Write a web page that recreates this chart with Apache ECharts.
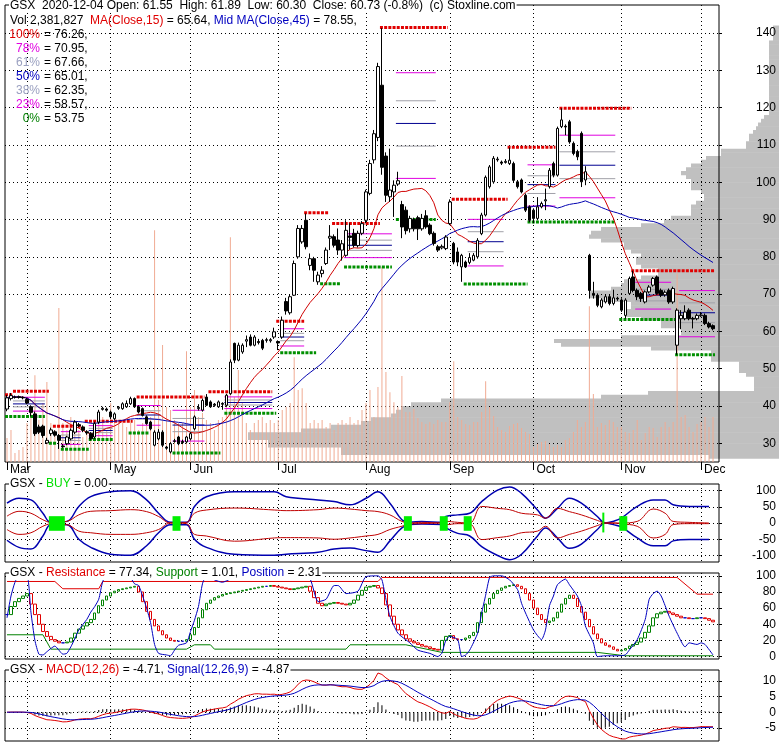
<!DOCTYPE html>
<html><head><meta charset="utf-8">
<script src="https://cdn.jsdelivr.net/npm/echarts@6/dist/echarts.min.js"></script>
<style>html,body{margin:0;padding:0;background:#fff}#c{width:780px;height:745px}</style>
</head><body><div id="c"></div>
<script>
// ---------- categories ----------
const monthNames = ['Mar','Apr','May','Jun','Jul','Aug','Sep','Oct','Nov','Dec'];
const monthTradingDays = [5,21,20,22,22,21,21,22,20,4];
const hiddenMonthLabels = ['Apr'];

// ---------- price data ----------
const opens = [39.2,42.0,42.3,42.5,42.3,41.8,39.8,37.9,34.4,34.6,
30.1,32.6,33.1,32.1,29.3,29.9,31.2,33.0,35.0,34.4,
33.1,32.6,31.7,35.7,39.1,39.2,38.4,36.6,39.4,39.3,
39.8,40.6,42.0,39.8,39.3,37.1,35.7,29.5,31.2,33.0,
29.0,27.7,30.5,31.7,30.5,30.4,31.2,33.9,39.3,38.9,
42.4,41.1,40.5,39.8,40.7,40.2,43.3,56.8,52.3,54.5,
57.4,58.5,56.3,57.3,57.6,57.6,57.5,58.5,57.3,58.5,
68.0,65.0,69.7,80.0,84.0,89.8,77.7,79.5,73.3,75.5,
78.2,85.0,85.4,84.5,81.8,80.4,85.6,86.3,83.0,86.3,
89.8,97.0,106.0,112.0,126.0,107.0,96.1,97.4,99.5,94.0,
92.5,87.5,90.0,90.5,87.5,91.0,88.5,86.3,82.7,82.4,
82.2,88.9,83.6,81.3,77.3,78.6,78.5,79.1,80.0,86.2,
91.2,98.8,100.1,106.0,105.4,105.3,105.0,105.0,100.1,100.6,
96.5,93.4,92.5,90.3,93.4,95.0,98.8,105.0,101.9,114.9,
115.0,116.2,110.4,108.2,113.1,100.6,80.4,70.2,69.7,66.6,
67.9,69.3,67.5,68.9,68.4,64.3,70.2,74.6,71.0,70.2,
67.9,70.6,72.4,74.6,71.0,69.8,71.0,67.9,56.3,63.4,
63.4,65.7,63.5,63.4,64.2,64.3,62.1,61.55];
const closes = [42.2,42.8,42.4,42.3,42.2,40.8,38.3,32.6,33.0,32.1,
30.8,33.6,32.2,30.8,29.1,31.7,33.5,35.7,34.7,33.5,
32.8,31.2,35.3,38.4,39.4,38.9,37.1,37.9,39.7,40.6,
40.7,42.0,39.8,38.4,37.5,35.3,33.9,33.0,33.0,29.5,
28.7,29.9,30.7,29.9,30.2,31.7,32.6,37.1,39.6,41.5,
40.2,39.8,40.2,41.1,40.5,42.9,51.8,52.3,56.3,56.3,
57.8,56.3,58.5,57.0,55.5,57.8,57.8,59.9,56.9,63.0,
65.5,69.3,78.2,87.6,87.6,82.7,79.5,76.4,75.1,76.4,
81.8,85.5,83.1,81.8,83.5,87.1,85.2,83.1,86.3,88.9,
97.4,105.0,113.0,131.0,104.0,96.5,97.9,99.2,100.4,88.0,
87.0,90.3,87.5,87.5,90.3,88.0,86.2,83.6,81.8,82.8,
85.3,94.7,78.6,78.6,80.4,77.3,79.8,80.4,84.4,91.2,
101.3,104.1,106.4,106.2,105.1,105.6,105.9,100.5,98.8,97.4,
92.5,89.8,90.3,93.4,94.3,95.3,103.2,101.9,114.4,116.7,
114.8,110.8,107.7,106.8,100.1,102.8,71.0,69.7,67.0,68.4,
69.3,67.5,69.0,68.7,65.7,68.4,74.2,71.0,69.3,68.8,
70.6,71.9,74.2,70.2,69.7,70.5,67.9,71.5,65.7,64.3,
65.2,63.4,63.3,64.3,64.4,62.1,61.2,60.73];
const lows = [38.6,41.5,42.0,42.0,41.8,40.5,37.2,32.0,32.5,31.5,
29.8,32.0,31.8,28.5,28.8,29.5,30.8,32.5,34.3,33.0,
32.3,30.8,31.2,35.2,38.8,38.5,36.5,36.2,39.0,39.0,
39.5,40.3,39.5,38.0,37.2,35.0,33.5,29.2,30.8,29.0,
28.3,27.3,30.2,29.5,29.8,30.0,30.8,33.5,38.8,38.5,
40.0,39.5,39.8,39.5,39.0,39.8,43.0,51.5,52.0,54.0,
55.8,56.0,56.0,56.5,55.0,57.0,57.0,58.0,55.0,58.0,
64.5,64.5,69.5,79.5,83.5,82.0,76.4,73.3,72.5,74.5,
77.8,81.8,82.5,80.5,79.0,80.0,82.0,82.5,82.5,85.8,
89.0,96.5,105.0,111.0,102.0,94.7,94.7,90.7,99.0,85.0,
86.0,86.5,86.8,84.5,87.0,87.5,85.8,83.0,81.3,82.0,
81.8,88.5,78.0,77.5,73.3,77.0,78.0,78.8,79.5,85.8,
90.8,98.3,99.6,105.5,104.6,105.0,104.6,100.0,98.3,97.0,
92.0,89.3,89.0,89.8,93.0,92.5,98.3,101.3,101.5,114.5,
112.6,110.3,107.2,105.9,98.7,99.2,68.8,68.8,66.5,66.2,
67.5,67.0,67.0,68.2,65.2,63.4,69.8,70.5,68.4,67.9,
67.5,70.2,72.0,69.8,69.2,69.3,67.4,67.4,53.75,60.6,
63.0,63.0,60.8,63.0,63.9,61.7,60.8,60.30];
const highs = [43.0,43.5,42.8,42.8,42.6,42.2,40.2,38.5,35.0,35.0,
31.5,34.2,33.5,32.5,29.8,32.0,34.0,36.2,35.5,34.8,
33.5,33.0,35.8,39.0,39.8,39.6,38.8,38.3,40.0,41.0,
41.5,42.5,42.3,40.2,39.6,37.5,36.0,33.5,33.8,33.5,
29.3,30.3,31.2,32.0,31.0,32.0,33.0,37.5,40.5,42.0,
43.2,41.5,40.8,41.5,41.0,43.3,52.5,57.0,57.0,56.8,
58.9,59.2,59.0,58.0,58.0,58.3,58.2,61.0,57.6,64.0,
69.0,70.0,79.0,88.5,88.5,91.6,80.9,80.0,76.0,77.5,
82.5,88.5,86.0,87.6,84.5,89.8,89.0,87.5,87.0,89.6,
98.0,106.0,114.0,132.0,141.3,108.0,109.0,100.5,102.8,95.0,
93.5,91.0,90.5,91.0,91.5,92.5,89.0,86.8,83.2,83.3,
85.8,95.4,84.0,82.5,80.8,79.0,81.0,81.0,85.0,91.8,
101.8,104.6,107.0,106.8,105.8,106.2,109.3,105.5,100.6,101.0,
97.0,93.8,93.0,96.0,94.8,98.3,103.8,105.5,114.9,119.8,
115.5,116.7,110.9,108.7,113.6,104.3,80.8,73.3,70.2,68.9,
69.8,69.8,71.2,69.3,68.9,68.9,74.7,76.26,71.5,70.6,
71.0,72.4,74.6,75.0,71.5,71.0,71.5,72.0,66.2,65.7,
67.0,66.2,63.9,64.8,65.2,64.8,62.6,61.89];
// volume, millions of shares
const volumes = [1.27,1.69,0.48,0.63,0.79,2.06,2.75,4.60,2.22,3.12,
4.23,2.06,1.69,8.15,2.06,1.69,2.38,2.06,1.69,1.32,
1.69,1.16,2.22,2.75,2.38,1.69,3.12,2.22,2.06,2.06,
1.85,2.22,2.22,1.69,2.06,2.22,2.38,12.27,3.28,6.19,
2.91,2.75,2.22,2.06,2.06,5.87,2.91,3.81,2.38,2.59,
2.22,2.06,1.69,2.22,2.38,3.44,11.90,3.44,4.87,3.12,
2.06,1.69,2.06,2.22,2.38,2.06,2.22,2.06,2.22,2.75,
2.91,3.12,5.55,3.81,3.91,3.12,2.06,2.22,2.06,2.22,
1.85,2.06,1.69,2.06,2.22,2.06,2.38,2.06,2.22,2.75,
3.12,3.81,2.38,3.97,10.32,4.76,3.70,3.17,2.91,4.55,
2.65,2.65,2.80,2.33,2.12,2.01,2.12,2.01,2.22,2.12,
2.12,3.17,5.34,2.38,2.22,2.01,1.96,2.12,2.12,2.65,
4.28,2.91,2.43,1.85,1.69,1.59,1.90,2.01,2.06,1.80,
1.59,1.48,0.79,0.95,1.06,1.11,0.95,0.79,0.90,0.79,
1.16,1.27,1.59,2.22,1.85,2.12,8.25,3.60,1.85,2.06,
1.96,2.22,2.12,1.85,1.85,1.59,1.53,1.69,2.22,1.16,
1.53,1.85,1.80,1.32,1.85,2.12,1.85,2.12,10.00,2.38,
2.49,1.85,1.59,2.01,2.12,2.38,1.85,2.38];

// volume-by-price profile: bins of 1.0 starting at price 25
const profileStart = 25;
const profileBin = 1;
const profileVol = [0,7.0,43.8,43.8,51.1,51.1,53.1,53.1,47.8,44.8,
41.8,40.8,38.8,38.3,37.8,36.8,33.8,17.8,13.1,2.5,
2.5,2.5,2.5,3.3,4.0,4.0,4.0,6.8,6.8,6.8,
12.8,21.8,22.5,15.8,9.8,9.8,11.8,11.8,13.8,15.3,
15.3,14.8,14.8,17.8,19.0,19.0,16.8,15.8,15.5,13.8,
12.1,12.1,13.8,14.3,14.3,13.8,14.8,15.5,15.5,17.8,
19.0,18.8,17.8,13.8,11.5,10.8,8.8,8.8,8.8,8.3,
7.5,7.5,7.8,8.8,8.8,8.8,9.3,9.8,9.3,8.8,
7.8,7.3,5.8,5.8,3.3,3.3,3.0,3.0,2.6,2.3,
2.1,1.8,1.5,1.0,1.0,1.0,1.0,1.0,1.0,1.0,
1.0,1.0,1.0,1.0,1.0,1.0,1.0,1.0,1.0,1.0,
1.0,1.0,1.0,0.6,0.6,0.6,0.6,0,0,0,0,0];

// resistance / support levels: [startIndex, endIndex, price]
const resistLines = [[0,1,43.0],[2,10,43.95],[12,18,34.6],[20,31,35.9],[33,49,42.4],[51,66,43.8],[68,74,62.7],[75,80,91.8],[82,93,88.9],[94,110,141.5],[112,125,95.4],[126,137,109.4],[139,156,119.8],[157,177,76.26]];
const supportLines = [[0,9,37.2],[11,12,30.0],[14,20,28.4],[21,26,31.0],[31,35,32.8],[42,53,27.4],[55,67,38.1],[69,77,54.3],[79,83,72.8],[85,96,77.3],[98,107,90.0],[115,130,72.7],[131,152,89.3],[154,167,63.2],[168,177,53.75]];
// fibonacci sets: [startIndex, endIndex, high, low]
const fibSets = [[2,9,43.95,37.2],[14,18,34.6,28.4],[21,26,35.9,31.0],[33,38,42.4,32.8],[42,49,42.4,27.4],[55,66,43.8,38.1],[69,74,62.7,54.3],[85,96,88.9,77.3],[98,107,141.5,90.0],[116,124,95.4,72.7],[131,137,109.4,89.3],[139,152,119.8,89.3],[158,166,76.26,63.2],[169,177,76.26,53.75]];
const fibRatios = [0.764,0.618,0.5,0.382,0.214];

// BUY panel (sampled readings)
const buyIdx = [0,3,6,9,11,15,18,21,26,31,35,38,41,45,47,50,57,67,70,78,82,86,90,93,96,99,101,104,109,110,113,116,119,123,126,129,133,135,138,141,144,148,150,152,154,158,162,165,167,171,176];
const buyBlueUp = [61,76,71,30,2,5,51,81,96,99,71,30,2,2,51,81,96,96,81,71,66,56,76,96,61,10,2,5,2,20,25,30,66,101,111,91,40,15,45,76,61,20,0,5,15,51,71,71,56,51,51];
const buyBlueDn = [-53,-75,-80,-40,-5,-5,-50,-75,-96,-99,-70,-30,-5,-5,-50,-75,-96,-99,-96,-90,-80,-77,-85,-90,-55,-15,-5,-3,-5,-15,-32,-40,-73,-100,-113,-96,-40,-15,-46,-78,-65,-20,0,-5,-12,-46,-70,-70,-55,-51,-51];
const buyRedUp = [21,36,30,10,2,5,25,36,38,41,35,20,0,2,30,40,46,40,38,41,46,43,38,35,25,5,0,2,0,5,2,0,51,45,41,30,25,15,45,35,25,8,0,0,0,5,43,30,5,2,0];
const buyRedDn = [-20,-35,-30,-10,-3,-5,-25,-30,-35,-35,-30,-20,0,-2,-35,-40,-56,-46,-45,-46,-50,-46,-40,-35,-20,-10,-3,-2,0,-5,-2,-3,-51,-45,-40,-30,-25,-10,-46,-35,-25,-8,0,0,-3,-10,-46,-35,-5,-2,-2];
// BUY signals: [startIndex, endIndex, low, high]
const buySignals = [[11,14,-24,21],[42,43,-24,21],[100,101,-24,21],[109,110,-24,21],[115,116,-24,21],[154,155,-24,21],[149.5,149.5,-29,32]];

// Resistance / Support / Position panel
const stochBox = [52,62,68,72,75,78,65,52,40,31,
25,21,19,17,17,18,23,29,34,38,
42,46,54,63,70,75,79,81,83,84,
85,86,87,80,68,56,46,38,32,27,
23,20,19,19,19,21,27,36,48,58,
66,70,73,75,77,78,79,80,81,82,
83,84,85,86,87,87,88,87,86,85,
84,83,84,85,86,87,81,73,66,63,
65,66,67,66,65,64,66,70,76,82,
86,87,88,85,78,64,50,40,33,27,
22,19,17,15,13,12,10,9,8,20,
25,26,22,21,21,23,26,30,42,55,
65,72,78,82,85,87,88,89,87,84,
78,70,60,52,46,42,44,48,55,65,
72,76,72,62,55,46,37,28,22,17,
14,12,9,7,8,10,13,15,18,23,
30,38,48,53,55,56,54,52,50,48,
48,47,47,48,48,47,45,43];
const resistancePts = [[0,93],[12,93],[14,84],[23,84],[24,93],[93,93],[94,98],[168,98],[173,77.3],[177,77.3]];
const supportPts = [[0,27],[9,27],[11,9.2],[45,9.2],[47,14.6],[51,14.6],[52,9.2],[85,9.2],[86,14.6],[100,14.6],[109,5.2],[148,5.2],[155,1],[177,1]];
const positionPts = [[0,48],[1,75],[2,92],[3,100],[5,100],[6,55],[7,20],[8,3],[9,2],[10,6],[11,10],[12,13],[13,8],[14,3],[15,4],[16,12],[17,22],[18,33],[20,46],[21,55],[22,62],[23,71],[24,93],[25,100],[27,97],[29,99],[31,97],[32,90],[33,88],[34,75],[35,60],[36,42],[37,15],[38,4],[40,2],[41,1],[42,8],[43,14],[45,17],[46,31],[47,45],[48,62],[49,90],[50,100],[52,95],[54,92],[56,96],[58,99],[62,100],[66,100],[70,97],[74,100],[76,96],[78,68],[80,71],[82,88],[83,88],[85,78],[88,81],[90,99],[93,100],[94,95],[95,71],[96,50],[98,29],[101,17],[103,8],[106,4],[108,0],[109,4],[110,20],[111,25],[113,21],[114,0],[115,2],[116,8],[118,29],[119,54],[120,76],[121,98],[122,100],[124,100],[126,95],[128,83],[129,66],[130,54],[132,33],[134,21],[135,33],[136,63],[137,75],[138,89],[140,96],[141,89],[143,75],[144,63],[145,38],[147,17],[148,0],[150,1],[153,1],[155,2],[156,8],[158,21],[160,46],[161,71],[162,78],[163,81],[164,75],[165,63],[166,50],[168,29],[170,12],[171,17],[173,15],[174,17],[175,15],[177,2]];

// ---------- helpers ----------
const cats = [], monthStartIdx = [];
monthNames.forEach((m, k) => {
  for (let d = 0; d < monthTradingDays[k]; d++) {
    if (d === 0) monthStartIdx.push(cats.length);
    cats.push(m + ' #' + (d + 1));
  }
});
cats.push(' ');
const labelAt = {};
monthStartIdx.forEach((ix, k) => { if (!hiddenMonthLabels.includes(monthNames[k])) labelAt[ix] = monthNames[k]; });
const isMonthStart = i => monthStartIdx.indexOf(i) >= 0;

function sma(arr, n) {
  return arr.map((_, i) => { const s = Math.max(0, i - n + 1); let t = 0; for (let j = s; j <= i; j++) t += arr[j]; return t / (i - s + 1); });
}
function ema(arr, n) {
  const k = 2 / (n + 1); let e = arr[0];
  return arr.map((v, i) => { e = i === 0 ? v : v * k + e * (1 - k); return e; });
}
const ma15 = sma(closes, 15), ma45 = sma(closes, 45);
const e12 = ema(closes, 12), e26 = ema(closes, 26);
const macd = e12.map((v, i) => v - e26[i]);
const signal = ema(macd, 9);
const hist = macd.map((v, i) => v - signal[i]);

const FF = '"Liberation Sans", Arial, Helvetica, sans-serif';
const FONT = '12px ' + FF;
const RED = '#e00000', GREEN = '#008000', MAG = '#e000e0', GREY = '#a0a0a8', BLUE = '#000090';

const levelData = [];
resistLines.forEach(r => levelData.push([r[0], r[1], r[2], 0]));
supportLines.forEach(r => levelData.push([r[0], r[1], r[2], 1]));
const fibKinds = [2, 3, 4, 3, 2];
fibSets.forEach(f => fibRatios.forEach((q, k) => levelData.push([f[0], f[1], f[3] + q * (f[2] - f[3]), fibKinds[k]])));
const levelStyle = [
  {stroke: RED, lineWidth: 3, lineDash: [3, 1.2]},
  {stroke: '#009000', lineWidth: 3, lineDash: [3, 1.2]},
  {stroke: MAG, lineWidth: 1},
  {stroke: GREY, lineWidth: 1},
  {stroke: BLUE, lineWidth: 1}
];

const profileData = profileVol.map((v, k) => [profileStart + k * profileBin, profileStart + (k + 1) * profileBin, v]);

const candleData = opens.map((o, i) => [o, closes[i], lows[i], highs[i]]);
const boxData = stochBox.map((v, i) => { const p = i === 0 ? v : stochBox[i - 1]; return [p, v, Math.min(p, v), Math.max(p, v)]; });

const dotted = {type: [1, 3], color: '#000', width: 1};
function catAxis(gi, main) {
  return {
    type: 'category', gridIndex: gi, data: cats, boundaryGap: true,
    axisLine: {show: false},
    axisTick: main ? {show: true, alignWithLabel: true, interval: i => isMonthStart(i), length: 8, lineStyle: {color: '#000'}} : {show: false},
    axisLabel: main ? {show: true, interval: i => labelAt[i] !== undefined, formatter: (v, i) => labelAt[i] || '', align: 'left', margin: 2, padding: [0, 0, 0, 3], color: '#000', fontSize: 12, fontFamily: FF} : {show: false},
    splitLine: {show: true, alignWithLabel: true, interval: i => isMonthStart(i) && i > 0, lineStyle: dotted}
  };
}
function valAxis(gi, min, max, splitNumber) {
  return {
    type: 'value', gridIndex: gi, position: 'right', min, max, splitNumber,
    axisLine: {show: false},
    axisTick: {show: true, length: 3, lineStyle: {color: '#000'}},
    axisLabel: {showMinLabel: false, showMaxLabel: false, align: 'right', margin: 57, color: '#000', fontSize: 12, fontFamily: FF},
    splitLine: {show: true, showMinLine: false, showMaxLine: false, lineStyle: dotted}
  };
}

// text helper
const mctx = document.createElement('canvas').getContext('2d');
mctx.font = FONT;
function textRun(x, y, parts, bg) {
  const els = []; let cx = x;
  const widths = parts.map(p => mctx.measureText(p[0]).width);
  const total = widths.reduce((a, b) => a + b, 0);
  if (bg) els.push({type: 'rect', shape: {x: x - 1, y: y - 7, width: total + 2, height: 14}, style: {fill: '#fff'}, z: 99});
  parts.forEach((p, k) => {
    els.push({type: 'text', z: 100, style: {x: cx, y: y, text: p[0], fill: p[1], font: FONT, align: 'left', verticalAlign: 'middle'}});
    cx += widths[k];
  });
  return els;
}
const fibLegend = [['100%', RED, '= 76.26,'], ['78%', MAG, '= 70.95,'], ['61%', '#9aa0c0', '= 67.66,'], ['50%', '#0000c0', '= 65.01,'], ['38%', '#9aa0c0', '= 62.35,'], ['23%', MAG, '= 58.57,'], ['0%', GREEN, '= 53.75']];
let graphics = [];
graphics = graphics.concat(textRun(10, 5.5, [['GSX  2020-12-04 Open: 61.55  High: 61.89  Low: 60.30  Close: 60.73 (-0.8%)  (c) Stoxline.com', '#000']], true));
graphics = graphics.concat(textRun(10, 20.5, [['Vol 2,381,827  ', '#000'], ['MA(Close,15)', RED], [' = 65.64, ', '#000'], ['Mid MA(Close,45)', '#0000c0'], [' = 78.55,', '#000']], false));
fibLegend.forEach((f, k) => {
  const y = 34.5 + k * 13.95;
  graphics.push({type: 'text', z: 100, style: {x: 40, y, text: f[0], fill: f[1], font: FONT, align: 'right', verticalAlign: 'middle'}});
  graphics.push({type: 'text', z: 100, style: {x: 44, y, text: f[2], fill: '#000', font: FONT, align: 'left', verticalAlign: 'middle'}});
});
graphics = graphics.concat(textRun(10, 484, [['GSX - ', '#000'], ['BUY', '#00dd00'], [' = 0.00', '#000']], true));
graphics = graphics.concat(textRun(10, 573, [['GSX - ', '#000'], ['Resistance', RED], [' = 77.34, ', '#000'], ['Support', GREEN], [' = 1.01, ', '#000'], ['Position', '#0000c0'], [' = 2.31', '#000']], true));
graphics = graphics.concat(textRun(10, 670, [['GSX - ', '#000'], ['MACD(12,26)', RED], [' = -4.71, ', '#000'], ['Signal(12,26,9)', '#0000c0'], [' = -4.87', '#000']], true));

const frame = {show: true, borderColor: '#000', borderWidth: 1, backgroundColor: 'transparent'};
const option = {
  animation: false,
  textStyle: {fontFamily: FF},
  grid: [
    Object.assign({left: 5, right: 61, top: 5, height: 457}, frame),
    {left: 5, right: 1, top: 5, height: 457, show: false},
    Object.assign({left: 5, right: 61, top: 484, height: 78}, frame),
    Object.assign({left: 5, right: 61, top: 573, height: 86}, frame),
    Object.assign({left: 5, right: 61, top: 670, height: 71}, frame)
  ],
  xAxis: [
    catAxis(0, true),
    {type: 'value', gridIndex: 1, inverse: true, min: 0, max: 77.4, show: false},
    catAxis(2, false), catAxis(3, false), catAxis(4, false)
  ],
  yAxis: [
    valAxis(0, 25, 147.5, 12),
    {type: 'value', gridIndex: 0, min: 0, max: 24.2, show: false},
    {type: 'value', gridIndex: 1, min: 25, max: 147.5, show: false},
    valAxis(2, -120, 120, 5),
    valAxis(3, -3, 103.5, 5),
    valAxis(4, -9.2, 13.5, 5)
  ],
  series: [
    {type: 'custom', name: 'profile', xAxisIndex: 1, yAxisIndex: 2, z: -1, silent: true, clip: false,
     data: profileData, encode: {x: 2, y: [0, 1]},
     renderItem: (p, api) => {
       const lo = api.value(0), hi = api.value(1), v = api.value(2);
       if (!v) return null;
       const a = api.coord([v, hi]), b = api.coord([0, lo]);
       return {type: 'rect', shape: {x: a[0], y: a[1], width: b[0] - a[0], height: b[1] - a[1] + 0.5}, style: {fill: '#c0c0c0'}};
     }},
    {type: 'bar', name: 'vol', xAxisIndex: 0, yAxisIndex: 1, data: volumes, barWidth: 1, z: 1, silent: true, itemStyle: {color: '#f0ab93'}},
    {type: 'custom', name: 'levels', xAxisIndex: 0, yAxisIndex: 0, z: 3, silent: true,
     data: levelData, encode: {x: [0, 1], y: 2},
     renderItem: (p, api) => {
       const a = api.coord([api.value(0), api.value(2)]), b = api.coord([api.value(1), api.value(2)]);
       const bw = api.size([1, 0])[0];
       return {type: 'line', shape: {x1: a[0] - bw / 2, y1: a[1], x2: b[0] + bw / 2, y2: b[1]}, style: Object.assign({}, levelStyle[api.value(3)])};
     }},
    {type: 'line', name: 'MA15', xAxisIndex: 0, yAxisIndex: 0, data: ma15, showSymbol: false, z: 4, lineStyle: {color: '#d00000', width: 1}},
    {type: 'line', name: 'MA45', xAxisIndex: 0, yAxisIndex: 0, data: ma45, showSymbol: false, z: 4, lineStyle: {color: '#0000b0', width: 1}},
    {type: 'candlestick', name: 'GSX', xAxisIndex: 0, yAxisIndex: 0, data: candleData, barWidth: 3, z: 5,
     itemStyle: {color: '#fff', color0: '#000', borderColor: '#000', borderColor0: '#000', borderColorDoji: '#000', borderWidth: 1}},
    // BUY panel
    {type: 'line', xAxisIndex: 2, yAxisIndex: 3, data: buyIdx.map((x, k) => [x, buyBlueUp[k]]), smooth: 0.4, showSymbol: false, lineStyle: {color: '#0000b0', width: 1.5}},
    {type: 'line', xAxisIndex: 2, yAxisIndex: 3, data: buyIdx.map((x, k) => [x, buyBlueDn[k]]), smooth: 0.4, showSymbol: false, lineStyle: {color: '#0000b0', width: 1.5}},
    {type: 'line', xAxisIndex: 2, yAxisIndex: 3, data: buyIdx.map((x, k) => [x, buyRedUp[k]]), smooth: 0.4, showSymbol: false, lineStyle: {color: '#c00000', width: 1}},
    {type: 'line', xAxisIndex: 2, yAxisIndex: 3, data: buyIdx.map((x, k) => [x, buyRedDn[k]]), smooth: 0.4, showSymbol: false, lineStyle: {color: '#c00000', width: 1}},
    {type: 'custom', xAxisIndex: 2, yAxisIndex: 3, z: 6, silent: true, data: buySignals, encode: {x: [0, 1], y: [2, 3]},
     renderItem: (p, api) => {
       const i0 = api.value(0), i1 = api.value(1);
       const a = api.coord([Math.floor(i0), api.value(3)]), b = api.coord([Math.floor(i1), api.value(2)]);
       const bw = api.size([1, 0])[0];
       let x0, w;
       if (i0 === i1 && i0 % 1 !== 0) { x0 = a[0] + bw / 2 - 1; w = 2; }
       else { x0 = a[0] - bw / 2; w = b[0] - a[0] + bw; }
       return {type: 'rect', shape: {x: x0, y: a[1], width: w, height: b[1] - a[1]}, style: {fill: '#00f000'}};
     }},
    // Resistance panel
    {type: 'line', xAxisIndex: 3, yAxisIndex: 4, data: resistancePts, showSymbol: false, lineStyle: {color: '#e00000', width: 1}},
    {type: 'line', xAxisIndex: 3, yAxisIndex: 4, data: supportPts, showSymbol: false, lineStyle: {color: '#008000', width: 1}},
    {type: 'candlestick', xAxisIndex: 3, yAxisIndex: 4, data: boxData, barWidth: 3, z: 4,
     itemStyle: {color: '#fff', color0: '#fff', borderColor: '#008000', borderColor0: '#e00000', borderColorDoji: '#0000c0', borderWidth: 1}},
    {type: 'line', xAxisIndex: 3, yAxisIndex: 4, data: positionPts, showSymbol: false, smooth: 0.2, z: 5, lineStyle: {color: '#0000c0', width: 1}},
    // MACD panel
    {type: 'bar', xAxisIndex: 4, yAxisIndex: 5, data: hist, barWidth: 1, itemStyle: {color: '#000'}},
    {type: 'line', xAxisIndex: 4, yAxisIndex: 5, data: macd, showSymbol: false, lineStyle: {color: '#e00000', width: 1}},
    {type: 'line', xAxisIndex: 4, yAxisIndex: 5, data: signal, showSymbol: false, lineStyle: {color: '#0000c0', width: 1}}
  ],
  graphic: graphics
};
const chart = echarts.init(document.getElementById('c'), null, {renderer: 'canvas'});
chart.setOption(option);
</script></body></html>
